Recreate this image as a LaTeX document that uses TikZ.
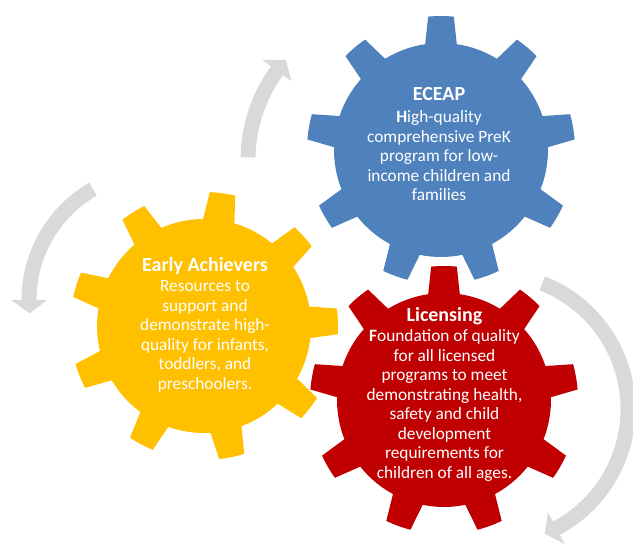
\documentclass[tikz,border=0pt]{standalone}
\usepackage{fontspec}
\setmainfont{Carlito}
\definecolor{gblue}{HTML}{4F81BD}
\definecolor{gyellow}{HTML}{FFC000}
\definecolor{gred}{HTML}{C00000}
\definecolor{ggray}{HTML}{D9D9D9}
\newcommand{\gout}{134}
\newcommand{\gin}{107}
\newcommand{\mygear}[4]{%
  \begin{scope}[shift={(#2,#3)}]
    \fill[#1] ({#4-8.5}:\gin)
      \foreach \k in {0,...,8}{
        -- ({#4+40*\k-5.5}:\gout)
        arc[start angle={#4+40*\k-5.5}, end angle={#4+40*\k+5.5}, radius=\gout]
        -- ({#4+40*\k+8.5}:\gin)
        arc[start angle={#4+40*\k+8.5}, end angle={#4+40*\k+31.5}, radius=\gin]
      } -- cycle;
  \end{scope}}
% center x, center y, radius, start angle, base angle, tip angle
\newcommand{\myarrow}[6]{%
  \begin{scope}[shift={(#1,#2)}]
    \fill[ggray] (#4:#3+7.5)
      arc[start angle=#4, end angle=#5, radius=#3+7.5]
      -- (#5:#3+18) -- (#6:#3) -- (#5:#3-18) -- (#5:#3-7.5)
      arc[start angle=#5, end angle=#4, radius=#3-7.5] -- cycle;
  \end{scope}}
\begin{document}
\begin{tikzpicture}[x=1pt,y=1pt,
  bodytext/.style={text=white, align=center, inner sep=0pt, anchor=base,
    font=\fontsize{17.3}{19.5}\selectfont}]
\useasboundingbox (0,0) rectangle (633,544);
\clip (0,0) rectangle (633,544);
% circular arrows
\myarrow{400}{384}{152}{179}{144}{138.7}
\myarrow{157}{244}{128}{120}{180}{186}
\myarrow{493}{135}{135}{68.6}{-62}{-67.5}
% gears
\mygear{gyellow}{204}{218}{2}
\mygear{gblue}{441}{394}{90}
\mygear{gred}{444}{144}{90}
% texts (anchor = baseline of the last line)
\node[bodytext] (eceap) at (439,343)
  {{\fontsize{20}{24}\selectfont\bfseries ECEAP}\\[3pt]
   \textbf{H}igh-quality\\ comprehensive PreK\\ program for low-\\
   income children and\\ families};
\node[bodytext] (early) at (205,154.7)
  {{\fontsize{20}{24}\selectfont\bfseries Early Achievers}\\[0.5pt]
   Resources to\\ support and\\ demonstrate high-\\ quality for infants,\\
   toddlers, and\\ preschoolers.};
\node[bodytext] (lic) at (444.5,65.7)
  {{\fontsize{20}{24}\selectfont\bfseries Licensing}\\[0.5pt]
   \textbf{F}oundation of quality\\ for all licensed\\ programs to meet\\
   demonstrating health,\\ safety and child\\ development\\
   requirements for\\ children of all ages.};
\end{tikzpicture}
\end{document}
